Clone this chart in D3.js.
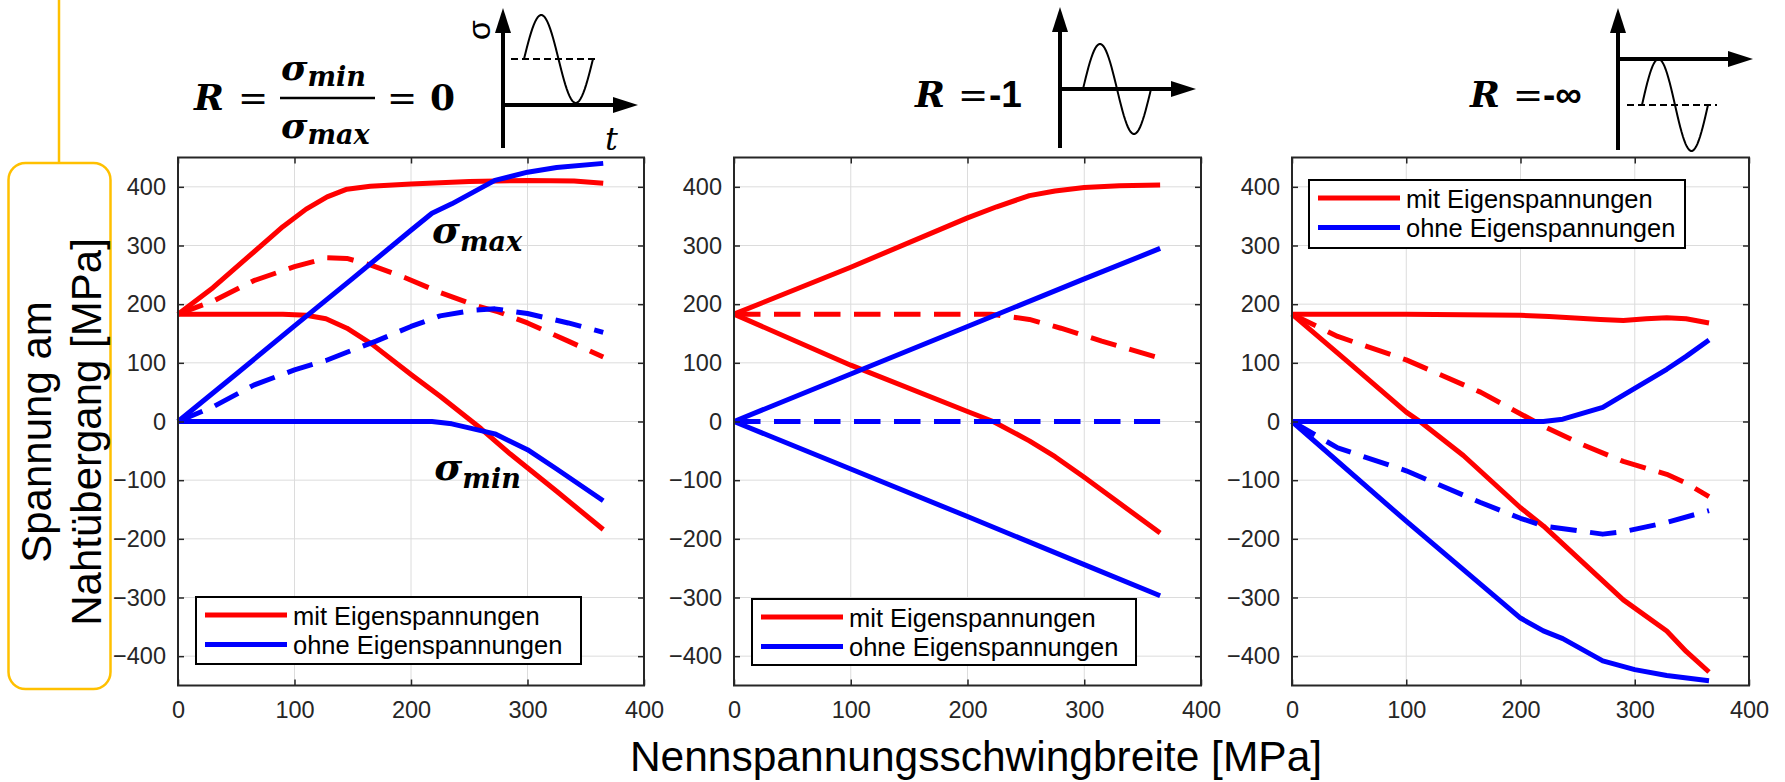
<!DOCTYPE html>
<html><head><meta charset="utf-8">
<script src="https://cdn.jsdelivr.net/npm/d3@7"></script>
<style>body{margin:0;background:#fff}</style>
</head><body>
<svg id="c" width="1785" height="782" xmlns="http://www.w3.org/2000/svg"></svg>
<script>
// ---------- data ----------
const xDomain = [0, 400];
const yDomain = [-450, 450];
const xTicks = [0, 100, 200, 300, 400];
const yTicks = [-400, -300, -200, -100, 0, 100, 200, 300, 400];
const legendLabels = ["mit Eigenspannungen", "ohne Eigenspannungen"];
const xTitle = "Nennspannungsschwingbreite [MPa]";
const yTitle = ["Spannung am", "Nahtübergang [MPa]"];

// Panel 1: R = 0
const p1RedMax  = [[0,183],[30,228],[60,280],[90,332],[110,362],[128,383],[145,396],[165,401],[200,405],[250,409],[300,411],[340,410],[365,406]];
const p1RedMid  = [[0,183],[30,205],[65,240],[100,264],[128,279],[145,278],[165,267],[195,245],[225,220],[255,198],[275,187],[300,168],[335,137],[365,110]];
const p1RedMin  = [[0,183],[90,183],[110,181],[127,175],[145,159],[167,131],[200,80],[225,43],[260,-12],[285,-55],[325,-119],[365,-184]];
const p1BlueMax = [[0,0],[50,81],[100,163],[150,244],[200,326],[218,355],[235,371],[272,411],[300,425],[325,433],[365,440]];
const p1BlueMid = [[0,0],[30,25],[65,62],[100,88],[127,104],[145,118],[170,137],[200,162],[225,180],[255,190],[272,192],[300,184],[335,168],[365,152]];
const p1BlueMin = [[0,0],[218,0],[235,-4],[272,-21],[300,-48],[325,-81],[365,-135]];

// Panel 2: R = -1
const p2RedMax  = [[0,183],[100,263],[200,347],[225,366],[253,385],[275,393],[300,399],[330,402],[365,403]];
const p2RedMid  = [[0,183],[220,183],[253,174],[280,159],[315,137],[365,108]];
const p2RedMin  = [[0,183],[100,96],[200,17],[222,0],[253,-33],[275,-60],[300,-95],[330,-139],[365,-190]];
const p2BlueMax = [[0,0],[100,81],[200,162],[300,243],[365,295]];
const p2BlueMid = [[0,0],[365,0]];
const p2BlueMin = [[0,0],[100,-81],[200,-162],[300,-244],[365,-297]];

// Panel 3: R = -inf
const p3RedMax  = [[0,183],[100,183],[200,181],[225,179],[270,174],[290,172],[310,175],[328,177],[345,175],[365,168]];
const p3RedMid  = [[0,183],[40,145],[100,105],[165,50],[220,-8],[255,-40],[290,-68],[328,-90],[345,-105],[365,-128]];
const p3RedMin  = [[0,183],[50,100],[100,16],[112,0],[150,-58],[200,-147],[220,-178],[255,-241],[290,-304],[328,-357],[345,-392],[365,-427]];
const p3BlueMax = [[0,0],[220,0],[237,4],[272,24],[290,45],[328,89],[345,111],[365,139]];
const p3BlueMid = [[0,0],[40,-45],[100,-84],[165,-138],[200,-165],[220,-178],[272,-192],[290,-188],[328,-172],[365,-152]];
const p3BlueMin = [[0,0],[100,-170],[200,-335],[220,-357],[237,-370],[272,-408],[300,-423],[328,-433],[365,-442]];

const panelSeries = [
  [p1RedMax, p1RedMid, p1RedMin, p1BlueMax, p1BlueMid, p1BlueMin],
  [p2RedMax, p2RedMid, p2RedMin, p2BlueMax, p2BlueMid, p2BlueMin],
  [p3RedMax, p3RedMid, p3RedMin, p3BlueMax, p3BlueMid, p3BlueMin]
];
const seriesColor = ["#ff0000","#ff0000","#ff0000","#0000ff","#0000ff","#0000ff"];
const seriesDashed = [false, true, false, false, true, false];

// ---------- layout ----------
const SANS = "'Liberation Sans', Arial, Helvetica, sans-serif";
const SERIF = "'DejaVu Serif', 'Liberation Serif', serif";
const AX = "#262626";
const LW = 5;
const plotTop = 157.5, plotBottom = 685.5;
const layouts = [
  {left:178, right:644, lg:{x:196, y:597, w:385, h:67}},
  {left:734, right:1201, lg:{x:752, y:599, w:384, h:66}},
  {left:1292, right:1749, lg:{x:1309, y:180, w:376, h:68}}
];

const svg = d3.select('#c');
svg.append('rect').attr('width',1785).attr('height',782).attr('fill','#fff');

panelSeries.forEach((series, i) => {
  const L = layouts[i];
  const x = d3.scaleLinear().domain(xDomain).range([L.left, L.right]);
  const y = d3.scaleLinear().domain(yDomain).range([plotBottom, plotTop]);
  const g = svg.append('g');

  // grid
  g.append('g').selectAll('line').data(xTicks.filter(t => t > xDomain[0] && t < xDomain[1])).join('line')
    .attr('x1', d => x(d)).attr('x2', d => x(d)).attr('y1', plotTop).attr('y2', plotBottom)
    .attr('stroke', '#dcdcdc').attr('stroke-width', 1);
  g.append('g').selectAll('line').data(yTicks).join('line')
    .attr('y1', d => y(d)).attr('y2', d => y(d)).attr('x1', L.left).attr('x2', L.right)
    .attr('stroke', '#dcdcdc').attr('stroke-width', 1);

  // series
  const line = d3.line().x(d => x(d[0])).y(d => y(d[1]));
  series.forEach((s, k) => {
    g.append('path').attr('d', line(s)).attr('fill', 'none')
      .attr('stroke', seriesColor[k]).attr('stroke-width', LW)
      .attr('stroke-linejoin', 'round')
      .attr('stroke-dasharray', seriesDashed[k] ? '26.5,13.5' : null);
  });

  // axes
  const styleAxis = sel => {
    sel.select('.domain').remove();
    sel.attr('color', AX).attr('font-family', SANS).attr('font-size', 23.5);
    sel.selectAll('line').attr('stroke-width', 1.5);
    sel.selectAll('text').attr('fill', AX);
  };
  g.append('g').attr('transform', `translate(${L.left},0)`)
    .call(d3.axisLeft(y).tickValues(yTicks).tickSizeInner(-6).tickSizeOuter(0).tickPadding(12))
    .call(styleAxis);
  g.append('g').attr('transform', `translate(${L.right},0)`)
    .call(d3.axisRight(y).tickValues(yTicks).tickSizeInner(-6).tickSizeOuter(0).tickFormat(() => ''))
    .call(styleAxis);
  g.append('g').attr('transform', `translate(0,${plotBottom})`)
    .call(d3.axisBottom(x).tickValues(xTicks).tickSizeInner(-6).tickSizeOuter(0).tickPadding(16))
    .call(styleAxis);
  g.append('g').attr('transform', `translate(0,${plotTop})`)
    .call(d3.axisTop(x).tickValues(xTicks).tickSizeInner(-6).tickSizeOuter(0).tickFormat(() => ''))
    .call(styleAxis);
  g.append('rect').attr('x', L.left).attr('y', plotTop)
    .attr('width', L.right - L.left).attr('height', plotBottom - plotTop)
    .attr('fill', 'none').attr('stroke', AX).attr('stroke-width', 2);

  // legend
  const lg = g.append('g').attr('transform', `translate(${L.lg.x},${L.lg.y})`);
  lg.append('rect').attr('width', L.lg.w).attr('height', L.lg.h)
    .attr('fill', '#fff').attr('stroke', '#000').attr('stroke-width', 2);
  legendLabels.forEach((lab, k) => {
    const ry = 18 + k * 29.5;
    lg.append('line').attr('x1', 9).attr('x2', 91).attr('y1', ry).attr('y2', ry)
      .attr('stroke', k === 0 ? '#ff0000' : '#0000ff').attr('stroke-width', LW);
    lg.append('text').attr('x', 97).attr('y', ry + 9.5).text(lab)
      .attr('font-family', SANS).attr('font-size', 25.5).attr('fill', '#000');
  });

  // annotations in panel 1
  if (i === 0) {
    const ann = (xx, yy, sub) => {
      const t = g.append('text').attr('x', x(xx)).attr('y', y(yy))
        .attr('font-family', SERIF).attr('font-weight', 'bold').attr('font-style', 'italic')
        .attr('font-size', 38).attr('fill', '#000');
      t.append('tspan').text('σ');
      t.append('tspan').attr('font-size', 27).attr('dy', 8).text(sub);
    };
    ann(218, 305, 'max');
    ann(220, -100, 'min');
  }
});

// ---------- axis titles ----------
svg.append('text').attr('x', 976).attr('y', 771).attr('text-anchor', 'middle')
  .attr('font-family', SANS).attr('font-size', 42.5).attr('fill', '#000').text(xTitle);

svg.append('line').attr('x1', 59).attr('x2', 59).attr('y1', 0).attr('y2', 163)
  .attr('stroke', '#ffc000').attr('stroke-width', 2.5);
svg.append('rect').attr('x', 8.5).attr('y', 163).attr('width', 102).attr('height', 526)
  .attr('rx', 17).attr('fill', 'none').attr('stroke', '#ffc000').attr('stroke-width', 2.5);
yTitle.forEach((t, k) => {
  svg.append('text').attr('transform', `translate(${51 + k * 50},432) rotate(-90)`)
    .attr('text-anchor', 'middle').attr('font-family', SANS).attr('font-size', 42)
    .attr('fill', '#000').text(t);
});

// ---------- titles with load-cycle icons ----------
const mathText = (xx, yy, txt, opts = {}) => svg.append('text').attr('x', xx).attr('y', yy)
  .attr('font-family', opts.family || SERIF).attr('font-weight', opts.weight || 'bold')
  .attr('font-style', opts.style || 'italic').attr('font-size', opts.size || 36)
  .attr('fill', '#000').text(txt);

// panel 1 title
mathText(194, 110, 'R');
mathText(238, 110, '=', {weight:'normal', style:'normal'});
svg.append('line').attr('x1', 280).attr('x2', 375).attr('y1', 98).attr('y2', 98)
  .attr('stroke', '#000').attr('stroke-width', 2.5);
const frac = (yy, sub) => {
  const t = mathText(281, yy, '');
  t.append('tspan').text('σ');
  t.append('tspan').attr('font-size', 27).attr('dy', 6).text(sub);
};
frac(80, 'min');
frac(138, 'max');
mathText(387, 110, '=', {weight:'normal', style:'normal'});
mathText(430, 110, '0', {style:'normal'});
// panel 2 title
mathText(915, 107, 'R');
mathText(958, 107, '=', {weight:'normal', style:'normal'});
mathText(989, 107, '-1', {family: SANS, style:'normal', size: 37});
// panel 3 title
mathText(1470, 107, 'R');
mathText(1513, 107, '=', {weight:'normal', style:'normal'});
mathText(1543, 107, '-∞', {family: SANS, style:'normal', size: 37});

const arrowV = (x0, yBase, yTip) => {
  svg.append('line').attr('x1', x0).attr('x2', x0).attr('y1', yBase).attr('y2', yTip + 20)
    .attr('stroke', '#000').attr('stroke-width', 4);
  svg.append('path').attr('d', `M${x0},${yTip} L${x0 - 8},${yTip + 25} L${x0 + 8},${yTip + 25} Z`).attr('fill', '#000');
};
const arrowH = (y0, xBase, xTip) => {
  svg.append('line').attr('x1', xBase - 2).attr('x2', xTip - 20).attr('y1', y0).attr('y2', y0)
    .attr('stroke', '#000').attr('stroke-width', 4);
  svg.append('path').attr('d', `M${xTip},${y0} L${xTip - 25},${y0 - 8} L${xTip - 25},${y0 + 8} Z`).attr('fill', '#000');
};
const sine = (x0, period, mean, amp) => {
  const pts = d3.range(0, 1.0001, 0.02).map(f => [x0 + f * period, mean - amp * Math.sin(2 * Math.PI * f)]);
  svg.append('path').attr('d', d3.line()(pts)).attr('fill', 'none')
    .attr('stroke', '#000').attr('stroke-width', 2);
};
const meanLine = (x1, x2, yy) => svg.append('line').attr('x1', x1).attr('x2', x2).attr('y1', yy).attr('y2', yy)
  .attr('stroke', '#000').attr('stroke-width', 2).attr('stroke-dasharray', '7,4');

// icon 1 (R = 0)
arrowV(503, 148, 8);
arrowH(105, 503, 638);
sine(524, 69, 59, 44);
meanLine(511, 598, 59);
svg.append('text').attr('transform', 'translate(490,30) rotate(-90)').attr('text-anchor', 'middle')
  .attr('font-family', SANS).attr('font-size', 32).attr('fill', '#000').text('σ');
svg.append('text').attr('x', 605).attr('y', 150).attr('font-family', SERIF).attr('font-style', 'italic')
  .attr('font-size', 32).attr('fill', '#000').text('t');
// icon 2 (R = -1)
arrowV(1060, 148, 7);
arrowH(89, 1060, 1196);
sine(1083, 68, 89, 45);
// icon 3 (R = -inf)
arrowV(1618, 150, 8);
arrowH(59, 1618, 1753);
sine(1642, 66, 105, 46);
meanLine(1627, 1717, 105);
</script>
</body></html>
